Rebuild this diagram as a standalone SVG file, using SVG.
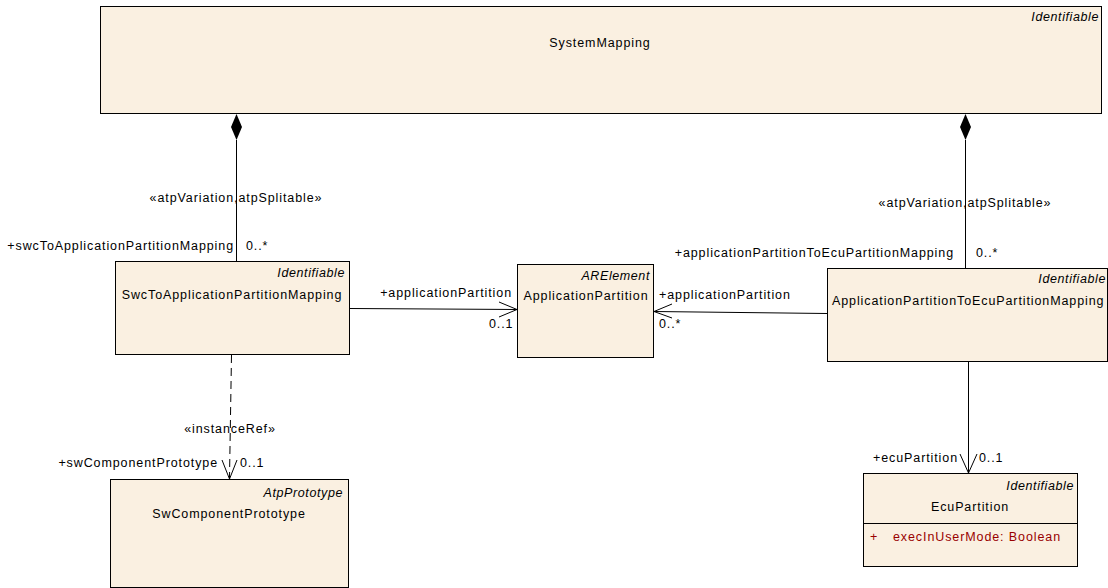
<svg xmlns="http://www.w3.org/2000/svg" width="1108" height="588" viewBox="0 0 1108 588">
<style>
text{font-family:"Liberation Sans",Arial,sans-serif;font-size:12.5px;letter-spacing:0.9px;fill:#000}
.st{font-style:italic;letter-spacing:0.6px}
.box{fill:#FAF0E1;stroke:#000;stroke-width:1}
.ln{fill:none;stroke:#000;stroke-width:1}
.dash{stroke-dasharray:8,5}
.attr{fill:#990000}
.m{text-anchor:middle}
.e{text-anchor:end}
</style>
<rect width="1108" height="588" fill="#fff"/>
<g id="SystemMapping">
<rect class="box" x="100.5" y="6.5" width="1001" height="107"/>
<text class="st e" x="1099" y="21">Identifiable</text>
<text class="m" x="600" y="47">SystemMapping</text>
</g>
<g id="SwcToApplicationPartitionMapping">
<rect class="box" x="115.5" y="261.5" width="234" height="93"/>
<text class="st e" x="345" y="277">Identifiable</text>
<text class="m" x="232" y="299">SwcToApplicationPartitionMapping</text>
</g>
<g id="ApplicationPartition">
<rect class="box" x="517.5" y="264.5" width="136" height="93"/>
<text class="st e" x="650" y="280">ARElement</text>
<text class="m" x="586" y="300">ApplicationPartition</text>
</g>
<g id="ApplicationPartitionToEcuPartitionMapping">
<rect class="box" x="827.5" y="268.5" width="280" height="93"/>
<text class="st e" x="1106" y="283">Identifiable</text>
<text x="832" y="305">ApplicationPartitionToEcuPartitionMapping</text>
</g>
<g id="SwComponentPrototype">
<rect class="box" x="110.5" y="479.5" width="238" height="108"/>
<text class="st e" x="343" y="497">AtpPrototype</text>
<text class="m" x="229" y="518">SwComponentPrototype</text>
</g>
<g id="EcuPartition">
<rect class="box" x="863.5" y="473.5" width="214" height="93"/>
<line class="ln" x1="863.5" y1="523.5" x2="1077.5" y2="523.5"/>
<text class="st e" x="1074" y="490">Identifiable</text>
<text class="m" x="970" y="511">EcuPartition</text>
<text class="attr" x="870" y="541">+</text>
<text class="attr" x="893" y="541">execInUserMode: Boolean</text>
</g>
<g id="connectors">
<line class="ln" x1="236.5" y1="140" x2="236.5" y2="261"/>
<polygon points="236.5,114 242,127 236.5,140 231,127" fill="#000"/>
<text class="m" x="236" y="202">«atpVariation,atpSplitable»</text>
<text class="e" x="234" y="250">+swcToApplicationPartitionMapping</text>
<text x="246" y="250">0..*</text>

<line class="ln" x1="965.5" y1="140" x2="965.5" y2="268"/>
<polygon points="965.5,114 971,127 965.5,140 960,127" fill="#000"/>
<text class="m" x="965" y="207">«atpVariation,atpSplitable»</text>
<text class="e" x="954" y="257">+applicationPartitionToEcuPartitionMapping</text>
<text x="976" y="257">0..*</text>

<line class="ln" x1="350" y1="308.5" x2="517" y2="309.5"/>
<polyline class="ln" points="499,302 517,309.5 499,317"/>
<text class="e" x="512" y="297">+applicationPartition</text>
<text x="489" y="328">0..1</text>

<line class="ln" x1="827" y1="313.5" x2="654" y2="311.5"/>
<polyline class="ln" points="672,304 654,311.5 672,318"/>
<text x="659" y="299">+applicationPartition</text>
<text x="659" y="328">0..*</text>

<line class="ln" x1="968.5" y1="362" x2="968.5" y2="473"/>
<polyline class="ln" points="960,454 968.5,473 977,454"/>
<text class="e" x="958" y="462">+ecuPartition</text>
<text x="979" y="462">0..1</text>

<line class="ln dash" x1="231.5" y1="355" x2="229.5" y2="478"/>
<polyline class="ln" points="222,460 229.5,479 237,460"/>
<text class="m" x="230" y="433">«instanceRef»</text>
<text class="e" x="218" y="467">+swComponentPrototype</text>
<text x="240" y="467">0..1</text>
</g>
</svg>
